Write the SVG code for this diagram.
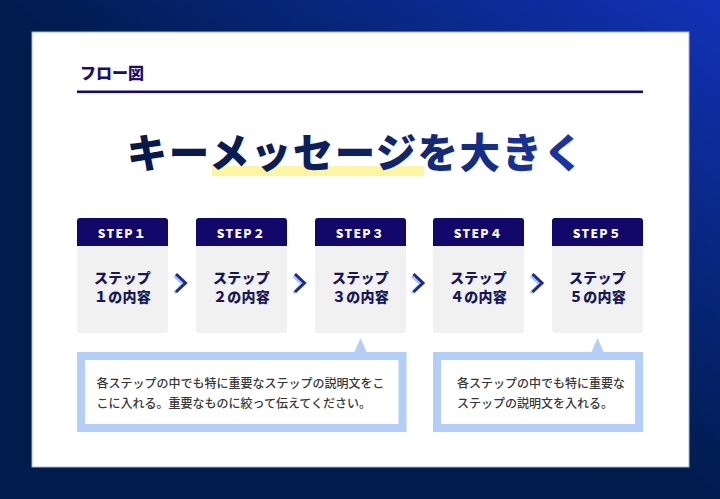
<svg xmlns="http://www.w3.org/2000/svg" width="720" height="499" viewBox="0 0 720 499">
  <defs>
    <linearGradient id="bg" x1="0" y1="1" x2="1" y2="0">
      <stop offset="0" stop-color="#001c4c"/>
      <stop offset="0.5" stop-color="#001c4e"/>
      <stop offset="1" stop-color="#1232b8"/>
    </linearGradient>
    <linearGradient id="titleGrad" gradientUnits="userSpaceOnUse" x1="130" y1="0" x2="585" y2="0">
      <stop offset="0" stop-color="#07184a"/>
      <stop offset="0.45" stop-color="#0b205e"/>
      <stop offset="1" stop-color="#1b36a8"/>
    </linearGradient>
    <style>
      .jp { font-family: "Noto Sans CJK JP", "Noto Sans", sans-serif; }
      .hdr { fill: #12086c; }
      .body { fill: #f1f1f1; }
      .steplbl { font-family: "Noto Sans CJK JP", "Noto Sans", sans-serif; font-weight: 900; font-size: 12px; fill: #ffffff; letter-spacing: 1.3px; text-anchor: middle; }
      .steptxt { font-family: "Noto Sans CJK JP", "Noto Sans", sans-serif; font-weight: 900; font-size: 14px; fill: #17185a; text-anchor: middle; letter-spacing: 0.3px; }
      .callout { fill: #ffffff; stroke: #b4cefa; stroke-width: 8; }
      .ptr { fill: #b4cefa; }
      .desc { font-family: "Noto Sans CJK JP", "Noto Sans", sans-serif; font-weight: 500; font-size: 12px; fill: #383838; }
      .chev { fill: none; stroke: #1d2a8c; stroke-width: 3; stroke-linecap: butt; stroke-linejoin: miter; }
      .chevShadow { fill: none; stroke: #a9c4f5; stroke-width: 3; }
    </style>
  </defs>

  <rect id="background" x="0" y="0" width="720" height="499" fill="url(#bg)"/>
  <rect id="card" x="32" y="32" width="657" height="435" fill="#ffffff" stroke="#aab4d6" stroke-width="1"/>

  <g id="header">
    <text class="jp" x="80" y="78.5" font-size="16" font-weight="900" fill="#1a0f70">フロー図</text>
    <rect x="77" y="90.5" width="566" height="2.6" fill="#140a6a"/>
  </g>

  <g id="title">
    <rect x="212" y="166" width="212" height="10" fill="#fdf5a0"/>
    <text class="jp" x="356" y="168" font-size="40.5" font-weight="900" text-anchor="middle" letter-spacing="1.4" fill="url(#titleGrad)">キーメッセージを大きく</text>
  </g>

  <g id="step1">
    <rect class="body" x="77" y="218" width="91" height="115" rx="3"/>
    <path class="hdr" d="M77,246 V221 Q77,218 80,218 H165 Q168,218 168,221 V246 Z"/>
    <text class="steplbl" x="122.5" y="238">STEP１</text>
    <text class="steptxt" x="122.5" y="282.5">ステップ</text>
    <text class="steptxt" x="122.5" y="301.5">１の内容</text>
  </g>
  <g id="step2">
    <rect class="body" x="196" y="218" width="91" height="115" rx="3"/>
    <path class="hdr" d="M196,246 V221 Q196,218 199,218 H284 Q287,218 287,221 V246 Z"/>
    <text class="steplbl" x="241.5" y="238">STEP２</text>
    <text class="steptxt" x="241.5" y="282.5">ステップ</text>
    <text class="steptxt" x="241.5" y="301.5">２の内容</text>
  </g>
  <g id="step3">
    <rect class="body" x="315" y="218" width="91" height="115" rx="3"/>
    <path class="hdr" d="M315,246 V221 Q315,218 318,218 H403 Q406,218 406,221 V246 Z"/>
    <text class="steplbl" x="360.5" y="238">STEP３</text>
    <text class="steptxt" x="360.5" y="282.5">ステップ</text>
    <text class="steptxt" x="360.5" y="301.5">３の内容</text>
  </g>
  <g id="step4">
    <rect class="body" x="433" y="218" width="91" height="115" rx="3"/>
    <path class="hdr" d="M433,246 V221 Q433,218 436,218 H521 Q524,218 524,221 V246 Z"/>
    <text class="steplbl" x="478.5" y="238">STEP４</text>
    <text class="steptxt" x="478.5" y="282.5">ステップ</text>
    <text class="steptxt" x="478.5" y="301.5">４の内容</text>
  </g>
  <g id="step5">
    <rect class="body" x="552" y="218" width="91" height="115" rx="3"/>
    <path class="hdr" d="M552,246 V221 Q552,218 555,218 H640 Q643,218 643,221 V246 Z"/>
    <text class="steplbl" x="597.5" y="238">STEP５</text>
    <text class="steptxt" x="597.5" y="282.5">ステップ</text>
    <text class="steptxt" x="597.5" y="301.5">５の内容</text>
  </g>

  <g id="connectors">
    <polyline class="chevShadow" points="174.5,276 183,284 174.5,293"/>
    <polyline class="chev" points="176,274 185.5,283 176,292"/>
    <polyline class="chevShadow" points="293.5,276 302,284 293.5,293"/>
    <polyline class="chev" points="295,274 304.5,283 295,292"/>
    <polyline class="chevShadow" points="412,276 420.5,284 412,293"/>
    <polyline class="chev" points="413.5,274 423,283 413.5,292"/>
    <polyline class="chevShadow" points="531,276 539.5,284 531,293"/>
    <polyline class="chev" points="532.5,274 542,283 532.5,292"/>
  </g>

  <g id="note1">
    <polygon class="ptr" points="354,353 360.5,338 367,353"/>
    <rect class="callout" x="81" y="356" width="321.5" height="72"/>
    <text class="desc" x="96.5" y="387.5">各ステップの中でも特に重要なステップの説明文をこ</text>
    <text class="desc" x="96.5" y="407.5">こに入れる。重要なものに絞って伝えてください。</text>
  </g>

  <g id="note2">
    <polygon class="ptr" points="591,353 597.5,338 604,353"/>
    <rect class="callout" x="437" y="356" width="202" height="72"/>
    <text class="desc" x="457" y="387.5">各ステップの中でも特に重要な</text>
    <text class="desc" x="457" y="407.5">ステップの説明文を入れる。</text>
  </g>
</svg>
